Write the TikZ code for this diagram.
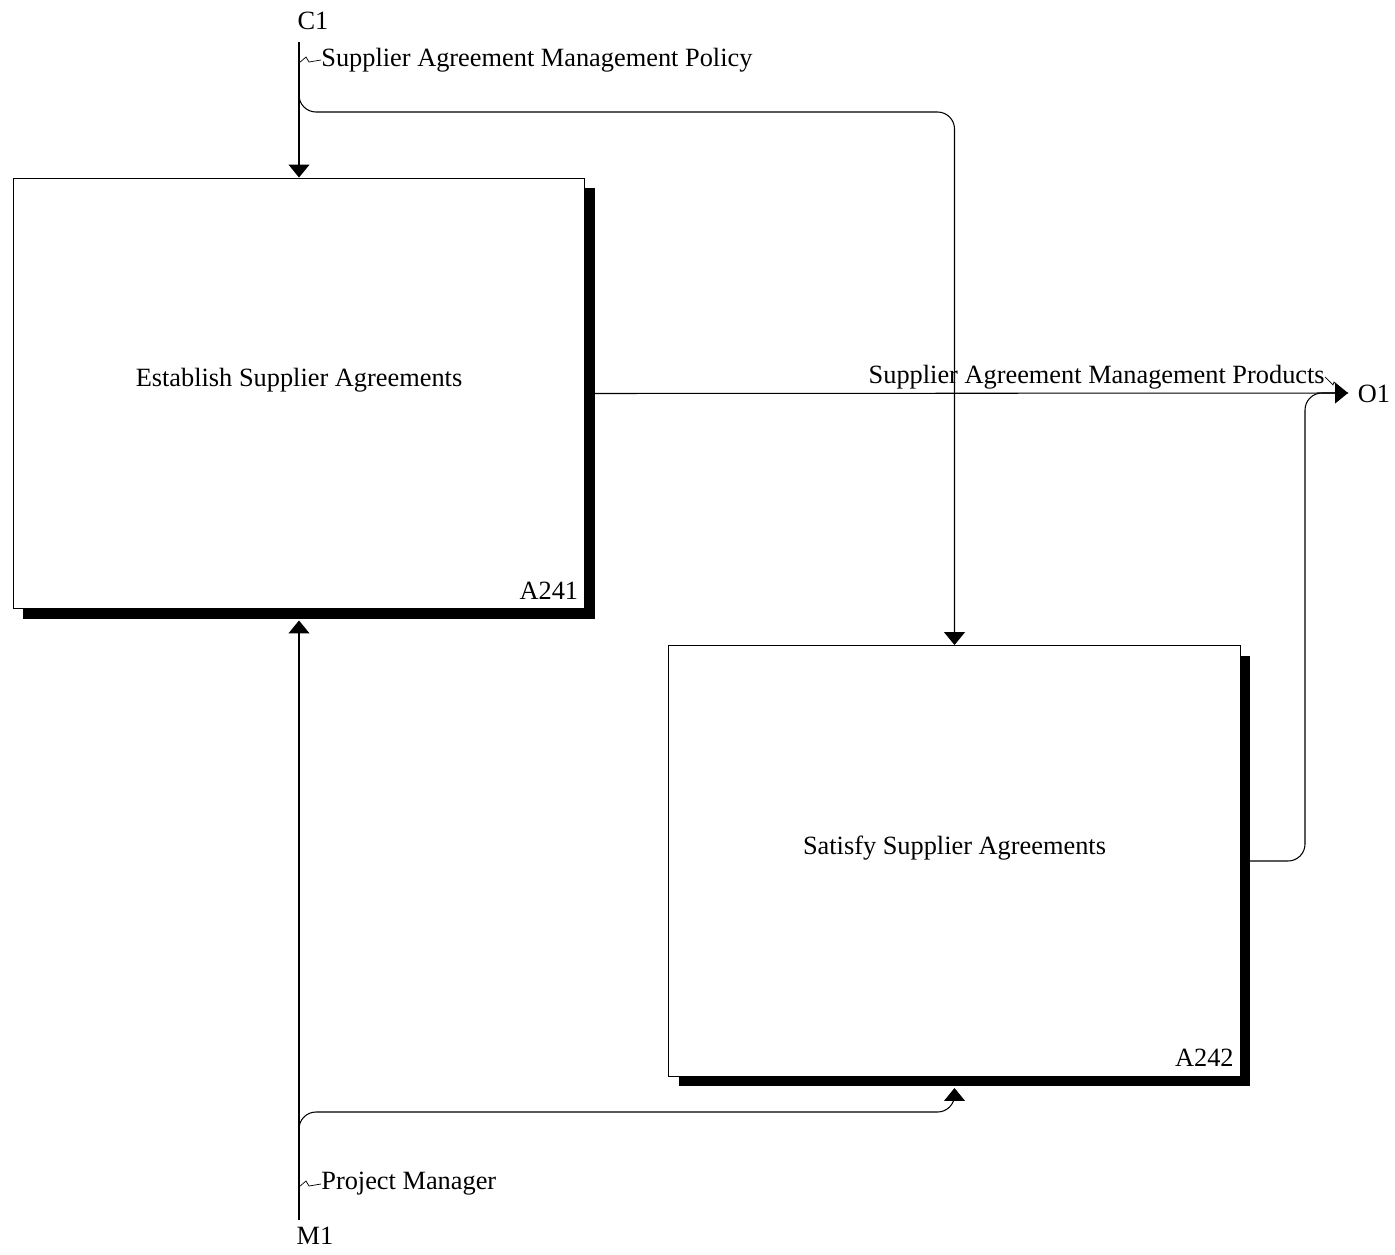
\documentclass[tikz,border=0pt]{standalone}
\usepackage{fontspec}
\setmainfont{Liberation Serif}
\usetikzlibrary{arrows.meta,positioning,shadows}

\begin{document}
\begin{tikzpicture}[
    x=0.02cm, y=-0.02cm,
    font=\fontsize{15}{18}\selectfont,
    act/.style={rectangle, draw, fill=white, line width=0.6pt, inner sep=0pt,
      minimum width=11.44cm, minimum height=8.62cm,
      drop shadow={shadow xshift=0.2cm, shadow yshift=-0.2cm, fill=black, opacity=1}},
    flow/.style={line width=0.6pt, -{Triangle[length=0.26cm, width=0.42cm]}},
    wire/.style={line width=0.6pt},
    squig/.style={line width=0.4pt},
    tag/.style={inner sep=0pt, anchor=south east}
]
\useasboundingbox (0,0) rectangle (1395,1254);

% activity boxes
\node[act] (a241) at (299,393.5) {};
\node[act] (a242) at (954.5,861) {};
\node (t241) at ([yshift=0.26cm]a241.center) {Establish Supplier Agreements};
\node (t242) at ([yshift=0.26cm]a242.center) {Satisfy Supplier Agreements};
\node[tag] (n241) at ([xshift=-0.14cm, yshift=0.2cm]a241.south east) {A241};
\node[tag] (n242) at ([xshift=-0.14cm, yshift=0.2cm]a242.south east) {A242};

% boundary ends
\node (c1) at (313,21) {C1};
\node (m1) at (315,1236) {M1};
\node (o1) at (1374,394) {O1};
\coordinate (c1end) at (299,42);
\coordinate (m1end) at (299,1220);
\coordinate (o1end) at (1348,393);
\coordinate (c1fork) at (299,95);
\coordinate (m1fork) at (299,1130);

% control
\draw[flow] (c1end) -- (a241.north);
\draw[flow, rounded corners=0.34cm] (c1fork) |- (a242.north |- 0,112) -- (a242.north);
\node[anchor=west, inner sep=0pt] (lpol) at (321,60) {Supplier Agreement Management Policy};
\draw[squig] (299,63) -- (306,57) -- (309,62) -- (lpol.west);

% output
\draw[flow] (a241.east) -- (o1end);
\draw[wire, rounded corners=0.34cm] (a242.east) -| (1305,393) -- (o1end);
\node[anchor=east, inner sep=0pt] (lprod) at (1325,377) {Supplier Agreement Management Products};
\draw[squig] (lprod.east) -- (1333,385) -- (1334,382) -- (1341,390);

% mechanism
\draw[flow] (m1end) -- ([yshift=-0.22cm]a241.south);
\draw[flow, rounded corners=0.34cm] (m1fork) |- (a242.south |- 0,1112) -- ([yshift=-0.22cm]a242.south);
\node[anchor=west, inner sep=0pt] (lpm) at (321,1184) {Project Manager};
\draw[squig] (299,1187) -- (306,1181) -- (309,1186) -- (lpm.west);
\end{tikzpicture}
\end{document}
